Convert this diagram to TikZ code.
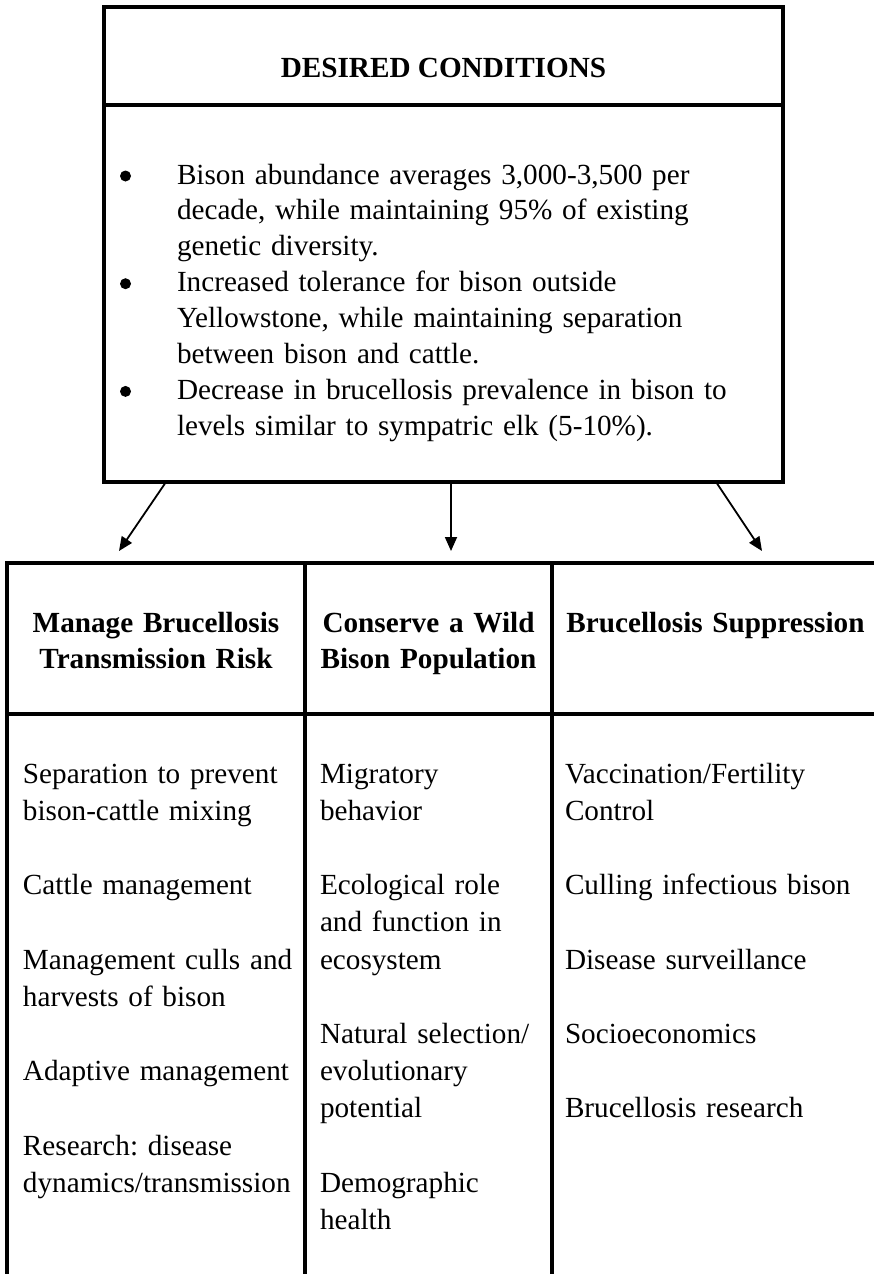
\documentclass[tikz,border=0pt]{standalone}
\usepackage{fontspec}
\setmainfont{Liberation Serif}
\usetikzlibrary{arrows.meta}
\frenchspacing

\tikzset{
  frame/.style={line width=3.2pt},
  arr/.style={line width=1.8pt, -{Triangle[length=14pt, width=12pt]}},
  dot/.style={circle, fill, minimum size=11pt},
  head/.style={anchor=base, align=center, text width=310pt,
    font=\fontsize{29.2pt}{36.5pt}\selectfont\bfseries},
  cell/.style={anchor=base west, align=left,
    font=\fontsize{29.2pt}{37.2pt}\selectfont},
  bul/.style={anchor=base west, align=left, text width=640pt,
    font=\fontsize{29.2pt}{35.9pt}\selectfont},
}

\begin{document}
\begin{tikzpicture}[x=1pt, y=-1pt, every node/.style={inner sep=0pt, outer sep=0pt}]
  \useasboundingbox (0,0) rectangle (874,1274);

  % desired conditions
  \node[draw, frame, minimum width=679pt, minimum height=475pt, anchor=north west] (DC) at (104,7) {};
  \coordinate (S) at (0,105);
  \draw[frame] (DC.west |- S) -- (DC.east |- S);
  \node[anchor=base, font=\fontsize{29.2pt}{36pt}\selectfont\bfseries] (T) at (443.5,77) {DESIRED CONDITIONS};

  \node[bul] (I1) at (177,184) {Bison abundance averages 3,000-3,500 per\\
    decade, while maintaining 95\% of existing\\ genetic diversity.};
  \node[bul] (I2) at (177,291.7) {Increased tolerance for bison outside\\
    Yellowstone, while maintaining separation\\ between bison and cattle.};
  \node[bul] (I3) at (177,399.4) {Decrease in brucellosis prevalence in bison to\\
    levels similar to sympatric elk (5-10\%).};
  \node[dot] (D1) at (125.5,176) {};
  \node[dot] (D2) at (125.5,283.7) {};
  \node[dot] (D3) at (125.5,391.4) {};

  % arrows
  \coordinate (E1) at (119,551);
  \coordinate (E2) at (451,551);
  \coordinate (E3) at (762,551);
  \draw[arr] ([xshift=62pt]DC.south west) -- (E1);
  \draw[arr] ([xshift=347pt]DC.south west) -- (E2);
  \draw[arr] ([xshift=-67pt]DC.south east) -- (E3);

  % table
  \draw[frame] (7,1274) -- (7,563) -- (874,563);
  \draw[frame] (7,714) -- (874,714);
  \draw[frame] (305,563) -- (305,1274);
  \draw[frame] (552,563) -- (552,1274);

  \node[head] (H1) at (156,632) {Manage Brucellosis\\ Transmission Risk};
  \node[head] (H2) at (428.5,632) {Conserve a Wild\\ Bison Population};
  \node[head] (H3) at (715.5,632) {Brucellosis Suppression};

  \node[cell, text width=280pt] (C1) at (23,783) {Separation to prevent\\
    bison-cattle mixing\\[37.2pt]
    Cattle management\\[37.2pt]
    Management culls and\\
    harvests of bison\\[37.2pt]
    Adaptive management\\[37.2pt]
    Research: disease\\
    dynamics/transmission};
  \node[cell, text width=225pt] (C2) at (320,783) {Migratory\\
    behavior\\[37.2pt]
    Ecological role\\
    and function in\\
    ecosystem\\[37.2pt]
    Natural selection/\\
    evolutionary\\
    potential\\[37.2pt]
    Demographic\\
    health};
  \node[cell, text width=300pt] (C3) at (565,783) {Vaccination/Fertility\\
    Control\\[37.2pt]
    Culling infectious bison\\[37.2pt]
    Disease surveillance\\[37.2pt]
    Socioeconomics\\[37.2pt]
    Brucellosis research};
\end{tikzpicture}
\end{document}
